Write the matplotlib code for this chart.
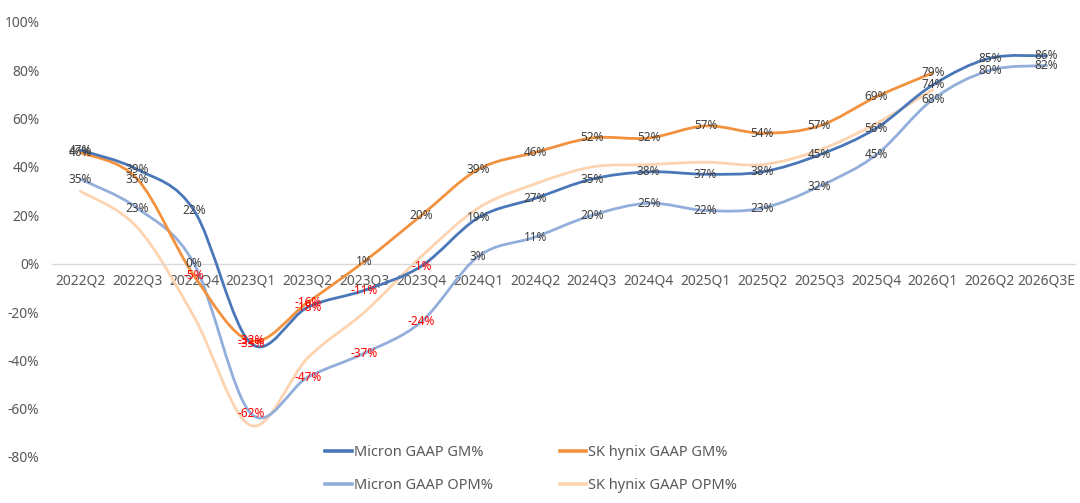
import numpy as np
import matplotlib.pyplot as plt
from matplotlib.path import Path
from matplotlib.patches import PathPatch
from matplotlib.lines import Line2D

plt.rcParams['font.family'] = ['Noto Sans', 'DejaVu Sans']

quarters = ['2022Q2', '2022Q3', '2022Q4', '2023Q1', '2023Q2', '2023Q3', '2023Q4',
            '2024Q1', '2024Q2', '2024Q3', '2024Q4', '2025Q1', '2025Q2', '2025Q3',
            '2025Q4', '2026Q1', '2026Q2', '2026Q3E']
micron_gm = [47, 39, 22, -33, -18, -11, -1, 19, 27, 35, 38, 37, 38, 45, 56, 74, 85, 86]
hynix_gm = [46, 35, -5, -32, -16, 1, 20, 39, 46, 52, 52, 57, 54, 57, 69, 79]
micron_opm = [35, 23, 0, -62, -47, -37, -24, 3, 11, 20, 25, 22, 23, 32, 45, 68, 80, 82]
hynix_opm = [30, 15, -22, -67, -39, -20, 3, 23, 33, 40, 41, 42, 41, 47, 58, 72]

yticks = [-80, -60, -40, -20, 0, 20, 40, 60, 80, 100]


def smooth_path(vals):
    # excel-like smoothed line: catmull-rom segments as cubic beziers
    x = np.arange(len(vals), dtype=float)
    y = np.array(vals, dtype=float)
    pts = np.column_stack([x, y])
    p = np.vstack([pts[0], pts, pts[-1]])
    verts = [pts[0]]
    codes = [Path.MOVETO]
    for i in range(1, len(p) - 2):
        c1 = p[i] + (p[i + 1] - p[i - 1]) / 6.0
        c2 = p[i + 1] - (p[i + 2] - p[i]) / 6.0
        verts += [c1, c2, p[i + 1]]
        codes += [Path.CURVE4] * 3
    return Path(verts, codes)


fig = plt.figure(figsize=(10.8, 5.03), dpi=100)
ax = fig.add_axes([52 / 1080, 46 / 503, (1075 - 52) / 1080, 435 / 503])

series = [
    ('SK hynix GAAP OPM%', hynix_opm, '#FDD3B0', False),
    ('Micron GAAP OPM%', micron_opm, '#92AEDB', True),
    ('SK hynix GAAP GM%', hynix_gm, '#F2923E', True),
    ('Micron GAAP GM%', micron_gm, '#4A77B8', True),
]
handles = {}
for z, (name, vals, col, lab) in enumerate(series):
    patch = PathPatch(smooth_path(vals), fill=False, edgecolor=col, lw=2.0,
                      capstyle='round', joinstyle='round', zorder=2 + z)
    ax.add_patch(patch)
    handles[name] = Line2D([], [], color=col, lw=2.6)

for name, vals, col, lab in series:
    if not lab:
        continue
    for i, v in enumerate(vals):
        ax.text(i, v, f'{v}%', ha='center', va='center', fontsize=8.5,
                color='#FF0000' if v < 0 else '#404040', zorder=10)

ax.set_xlim(-0.5, len(quarters) - 0.5)
ax.set_ylim(-80, 100)
ax.set_xticks(range(len(quarters)))
ax.set_xticklabels(quarters)
ax.set_yticks(yticks)
ax.set_yticklabels([f'{t}%' for t in yticks])
ax.tick_params(axis='both', length=0, labelsize=10, colors='#595959')
ax.tick_params(axis='x', pad=7)
ax.tick_params(axis='y', pad=9)
for s in ['top', 'right', 'left']:
    ax.spines[s].set_visible(False)
ax.spines['bottom'].set_position(('data', 0))
ax.spines['bottom'].set_color('#D9D9D9')
ax.spines['bottom'].set_linewidth(1)

order = ['Micron GAAP GM%', 'Micron GAAP OPM%', 'SK hynix GAAP GM%', 'SK hynix GAAP OPM%']
leg = fig.legend([handles[n] for n in order], order, ncol=2, frameon=False,
                 loc='center left', bbox_to_anchor=(318 / 1080, 34 / 503),
                 fontsize=10.5, handlelength=1.8, handletextpad=0.15,
                 columnspacing=4.6, labelspacing=1.2, borderpad=0)
for t in leg.get_texts():
    t.set_color('#595959')

fig.savefig('out.png', dpi=100)
